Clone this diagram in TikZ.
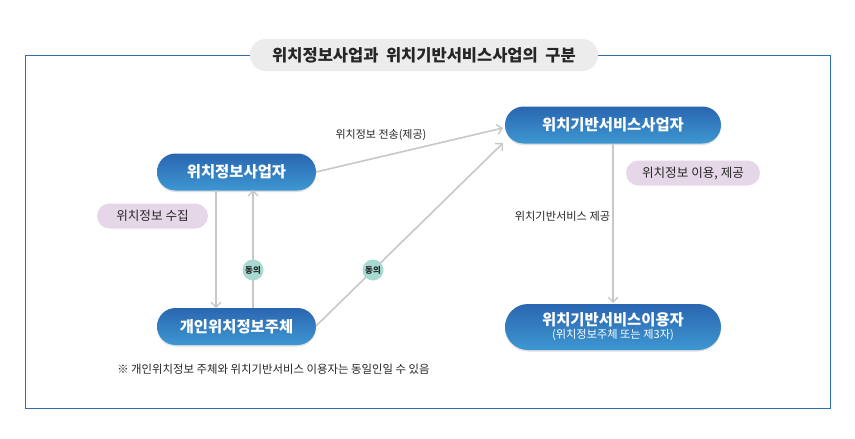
\documentclass[tikz,border=0pt]{standalone}
\usepackage{fontspec}
\setmainfont{Noto Sans CJK KR}
\usetikzlibrary{arrows.meta,shadows}
\definecolor{frameblue}{HTML}{2F6DB0}
\definecolor{nodetop}{HTML}{2A66B0}
\definecolor{nodebot}{HTML}{3D97D2}
\definecolor{pillfill}{HTML}{E6D7E8}
\definecolor{consent}{HTML}{A9DAD2}
\definecolor{linegray}{HTML}{C8C8C8}
\definecolor{titlegray}{HTML}{ECECEC}
\definecolor{txt}{HTML}{262626}
\tikzset{
  bluebox/.style={rounded corners=18.5pt, top color=nodetop, bottom color=nodebot, draw=none,
    text=white, font=\fontsize{15.4}{17}\selectfont\bfseries, minimum height=37pt, align=center, inner sep=2pt,
    drop shadow={shadow xshift=0pt, shadow yshift=-1.5pt, opacity=0.25}},
  pill/.style={rounded corners=12.5pt, fill=pillfill, draw=none, minimum height=25pt,
    text=txt, font=\fontsize{12.6}{14}\selectfont},
  agree/.style={circle, fill=consent, draw=none, minimum size=21pt, inner sep=0pt,
    text=txt, font=\fontsize{8.5}{9}\selectfont\bfseries},
  conn/.style={draw=linegray, line width=1.6pt, -{Straight Barb[length=5pt,width=10pt,line width=1.4pt]}},
  lbl/.style={text=txt, font=\fontsize{11.2}{13}\selectfont, inner sep=0pt}
}
\begin{document}
\begin{tikzpicture}[x=1pt,y=-1pt]
\useasboundingbox[fill=white] (0,0) rectangle (855,439);
% frame
\draw[frameblue, line width=0.8pt] (25,55) rectangle (830,408);
\node[fill=titlegray, rounded corners=16pt, minimum width=348pt, minimum height=32pt,
  font=\fontsize{16.5}{18}\selectfont\bfseries, text=txt] (title) at (424,55) {위치정보사업과\ \ 위치기반서비스사업의\ \ 구분};
% nodes
\node[bluebox, minimum width=159pt] (lip) at (236.5,172) {위치정보사업자};
\node[bluebox, minimum width=159pt] (subj) at (236.5,326.5) {개인위치정보주체};
\node[bluebox, minimum width=216pt] (lbsp) at (613,125) {위치기반서비스사업자};
\node[bluebox, minimum width=216pt, minimum height=46pt, rounded corners=23pt] (lbsu) at (613,327) {위치기반서비스이용자\\[-4pt]{\fontsize{11.2}{12}\selectfont\mdseries (위치정보주체 또는 제3자)}};
\node[pill, minimum width=111pt] (collect) at (152.5,216) {위치정보 수집};
\node[pill, minimum width=134pt] (use) at (693,173) {위치정보 이용, 제공};
% coordinates
\coordinate (a1) at (216,190); \coordinate (a2) at (216,308);
\coordinate (b1) at (253,308); \coordinate (b2) at (253,190);
\coordinate (c1) at (316,172); \coordinate (c2) at (503,128);
\coordinate (d1) at (316,326); \coordinate (d2) at (503,143);
\coordinate (e1) at (613,144); \coordinate (e2) at (613,303);
% connectors
\draw[conn] (a1) -- (a2);
\draw[conn] (b1) -- (b2);
\draw[conn] (c1) -- (c2);
\draw[conn] (d1) -- (d2);
\draw[conn] (e1) -- (e2);
\node[agree] (ag1) at (253,270) {동의};
\node[agree] (ag2) at (373,270) {동의};
% labels
\node[lbl, font=\fontsize{11}{13}\selectfont] (l1) at (381,135) {위치정보 전송(제공)};
\node[lbl] (l2) at (562.5,216) {위치기반서비스 제공};
\node[lbl, font=\fontsize{11.4}{13}\selectfont] (note) at (273.5,369) {※ 개인위치정보 주체와 위치기반서비스 이용자는 동일인일 수 있음};
\end{tikzpicture}
\end{document}
